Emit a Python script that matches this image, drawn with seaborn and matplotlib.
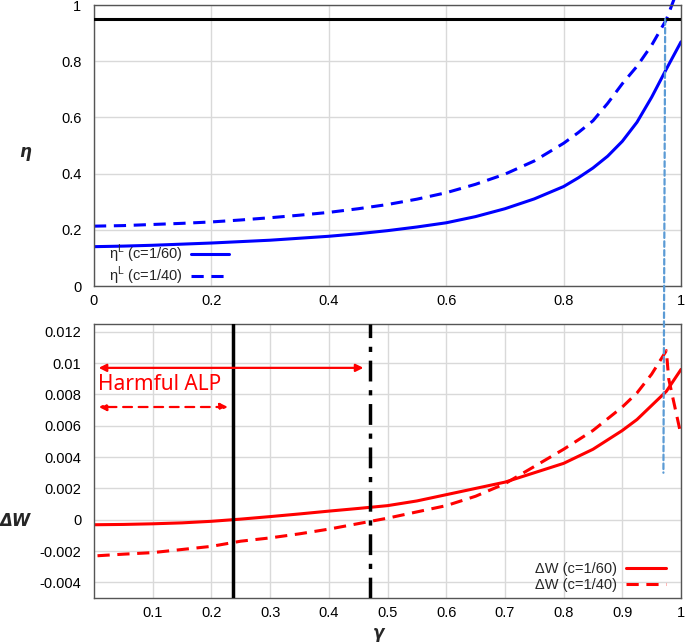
import matplotlib
matplotlib.use("Agg")
import matplotlib.pyplot as plt
import seaborn as sns
import pandas as pd
import numpy as np
from matplotlib.patches import ConnectionPatch

sns.set_theme(style="whitegrid")
plt.rcParams["font.family"] = ["Liberation Sans", "DejaVu Sans"]

# upper panel: eta^L against gamma
g_eta = [0.0, 0.05, 0.1, 0.15, 0.2, 0.25, 0.3, 0.35, 0.4, 0.45, 0.5, 0.55, 0.6, 0.65, 0.7,
         0.75, 0.8, 0.825, 0.85, 0.875, 0.9, 0.925, 0.95, 0.975, 1.0]
eta_c60 = [0.140, 0.142, 0.145, 0.149, 0.153, 0.158, 0.163, 0.170, 0.177, 0.186, 0.197, 0.210,
           0.225, 0.247, 0.275, 0.310, 0.354, 0.385, 0.420, 0.462, 0.515, 0.583, 0.672, 0.772, 0.869]
g_eta40 = [0.0, 0.05, 0.1, 0.15, 0.2, 0.25, 0.3, 0.35, 0.4, 0.45, 0.5, 0.55, 0.6, 0.65, 0.7,
           0.75, 0.8, 0.825, 0.85, 0.875, 0.9, 0.925, 0.95, 0.975, 0.988]
eta_c40 = [0.213, 0.215, 0.219, 0.223, 0.228, 0.235, 0.243, 0.252, 0.262, 0.275, 0.290, 0.309,
           0.332, 0.362, 0.398, 0.445, 0.508, 0.546, 0.588, 0.650, 0.720, 0.782, 0.857, 0.948, 1.02]
eta_bar = 0.95

# lower panel: Delta W against gamma
g_w60 = [0.0, 0.05, 0.1, 0.15, 0.2, 0.25, 0.3, 0.35, 0.4, 0.45, 0.5, 0.55, 0.6, 0.65, 0.7,
         0.75, 0.8, 0.85, 0.875, 0.9, 0.925, 0.95, 0.975, 1.0]
dw_c60 = [-0.00032, -0.0003, -0.00026, -0.0002, -0.0001, 0.00004, 0.0002, 0.00037, 0.00055,
          0.00072, 0.0009, 0.0012, 0.0016, 0.0020, 0.0024, 0.0030, 0.0036, 0.0045, 0.0051,
          0.0057, 0.0064, 0.0073, 0.0082, 0.0096]
g_w40 = [0.006, 0.05, 0.1, 0.15, 0.2, 0.25, 0.3, 0.35, 0.4, 0.45, 0.5, 0.55, 0.6, 0.65, 0.7,
         0.75, 0.8, 0.85, 0.9, 0.925, 0.95, 0.975, 0.979, 1.0]
dw_c40 = [-0.0023, -0.0022, -0.0021, -0.0019, -0.0017, -0.00137, -0.00116, -0.0009, -0.0006,
          -0.00025, 0.0001, 0.0005, 0.0009, 0.0015, 0.0023, 0.0034, 0.0045, 0.0057, 0.0072,
          0.0081, 0.0093, 0.0108, 0.0090, 0.0054]

gamma_zero = [0.236, 0.471]      # Delta W = 0 for c=1/60 and c=1/40
arrow_y = [0.0097, 0.0072]
arrow_start = 0.008
gamma_star = [0.973, 0.970]
star_y = [eta_bar, 0.003]

top_ticks = [0, 0.2, 0.4, 0.6, 0.8, 1]
top_labels = ["0", "0.2", "0.4", "0.6", "0.8", "1"]
bot_xticks = [0.1, 0.2, 0.3, 0.4, 0.5, 0.6, 0.7, 0.8, 0.9, 1.0]
bot_xlabels = ["0.1", "0.2", "0.3", "0.4", "0.5", "0.6", "0.7", "0.8", "0.9", "1"]
bot_yticks = [-0.004, -0.002, 0, 0.002, 0.004, 0.006, 0.008, 0.01, 0.012]
bot_ylabels = ["-0.004", "-0.002", "0", "0.002", "0.004", "0.006", "0.008", "0.01", "0.012"]

fig = plt.figure(figsize=(6.85, 6.42), dpi=100)
ax1 = fig.add_axes([0.1372, 0.5545, 0.857, 0.4377])
ax2 = fig.add_axes([0.1372, 0.0685, 0.857, 0.4268])

blue = "#0000ff"
red = "#ff0000"
dash = (0, (4, 2.5))

sns.lineplot(x=g_eta, y=eta_c60, ax=ax1, color=blue, lw=2.2, label="η$^{\\mathregular{L}}$ (c=1/60)")
sns.lineplot(x=g_eta40, y=eta_c40, ax=ax1, color=blue, lw=2.2, linestyle=dash,
             label="η$^{\\mathregular{L}}$ (c=1/40)", clip_on=False)
ax1.axhline(eta_bar, color="black", lw=2.2, zorder=3)

sns.lineplot(x=g_w60, y=dw_c60, ax=ax2, color=red, lw=2.2, label="ΔW (c=1/60)")
sns.lineplot(x=g_w40, y=dw_c40, ax=ax2, color=red, lw=2.2, linestyle=dash,
             label="ΔW (c=1/40)")
ax2.axvline(gamma_zero[0], color="black", lw=2.5, zorder=3)
ax2.axvline(gamma_zero[1], color="black", lw=2.5, linestyle=(0, (6, 2.5, 1.5, 2.5)), zorder=3)

ax2.annotate("", xy=(arrow_start, arrow_y[0]), xytext=(gamma_zero[1] - 0.012, arrow_y[0]),
             arrowprops=dict(arrowstyle="<|-|>", color=red, lw=1.6, mutation_scale=11,
                             shrinkA=0, shrinkB=0))
ax2.annotate("", xy=(arrow_start, arrow_y[1]), xytext=(gamma_zero[0] - 0.008, arrow_y[1]),
             arrowprops=dict(arrowstyle="<|-|>", color=red, lw=1.6, mutation_scale=11,
                             linestyle=(0, (4, 3)), shrinkA=0, shrinkB=0))
ax2.text(0.006, (arrow_y[0] + arrow_y[1]) / 2 + 0.0002, "Harmful ALP", color=red,
         fontsize=15, family=["Noto Sans", "DejaVu Sans"], va="center", ha="left")

con = ConnectionPatch(xyA=(gamma_star[0], star_y[0]), coordsA=ax1.transData,
                      xyB=(gamma_star[1], star_y[1]), coordsB=ax2.transData,
                      color="#5b9bd5", lw=1.6, linestyle=(0, (2.5, 1.5)), zorder=5)
fig.add_artist(con)

for ax in (ax1, ax2):
    ax.grid(True, color="#d9d9d9", lw=1)
    for s in ax.spines.values():
        s.set_color("#555555")
        s.set_linewidth(1.0)
    ax.tick_params(axis="both", direction="in", length=3, width=0.8, color="#555555",
                   labelsize=10.5, labelcolor="black")
    ax.tick_params(axis="y", pad=9)
    ax.tick_params(axis="x", pad=6)
    ax.set_xlim(0, 1)

ax1.set_ylim(0, 1)
ax1.set_xticks(top_ticks, top_labels)
ax1.set_yticks(top_ticks, top_labels)
ax2.set_ylim(-0.005, 0.0125)
ax2.set_xticks(bot_xticks, bot_xlabels)
ax2.set_yticks(bot_yticks, bot_ylabels)

lab = dict(family="DejaVu Sans", style="italic", weight="bold", fontsize=12)
ax1.set_ylabel("η", rotation=0, **lab)
ax1.yaxis.set_label_coords(-0.117, 0.445)
ax2.set_ylabel("ΔW", rotation=0, **lab)
ax2.yaxis.set_label_coords(-0.135, 0.25)
ax2.set_xlabel("γ", **lab)
ax2.xaxis.set_label_coords(0.484, -0.093)
ax1.set_xlabel("")

ax1.legend(loc="lower left", markerfirst=False, frameon=False, fontsize=10.5,
           handlelength=2.6, borderaxespad=0.0, labelspacing=0.0, handletextpad=0.6,
           bbox_to_anchor=(0.015, -0.025))
ax2.legend(loc="lower right", markerfirst=False, frameon=False, fontsize=10.5,
           handlelength=2.8, borderaxespad=0.2, labelspacing=0.15, handletextpad=0.6,
           bbox_to_anchor=(0.99, -0.01))

fig.savefig("out.png", dpi=100)
plt.close(fig)
